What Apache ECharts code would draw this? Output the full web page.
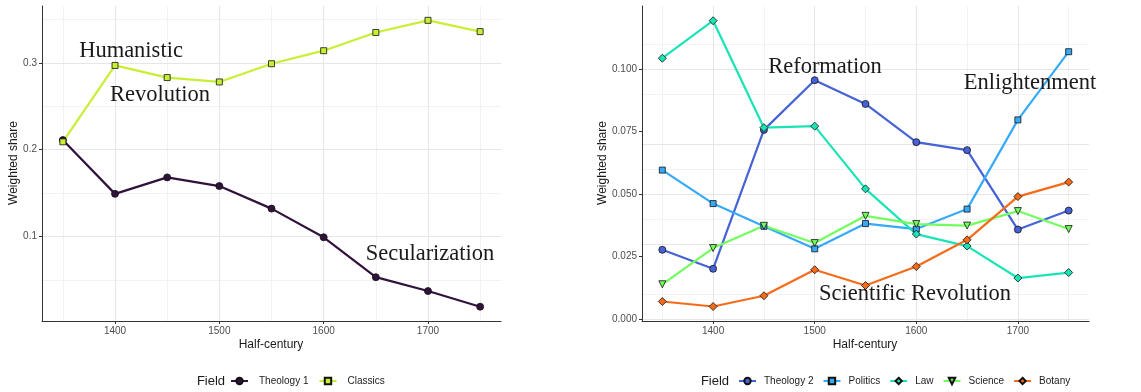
<!DOCTYPE html>
<html><head><meta charset="utf-8">
<script src="https://cdn.jsdelivr.net/npm/echarts@6/dist/echarts.min.js"></script>
<style>html,body{margin:0;padding:0;background:#fff}#c{width:1141px;height:392px}</style>
</head><body><div id="c"></div>
<script>
// ---- data ----
const years = [1350, 1400, 1450, 1500, 1550, 1600, 1650, 1700, 1750];
const theology1 = [0.211, 0.149, 0.168, 0.158, 0.132, 0.099, 0.053, 0.037, 0.019];
const classics  = [0.209, 0.297, 0.283, 0.278, 0.299, 0.314, 0.335, 0.349, 0.336];
const theology2 = [0.0276, 0.0200, 0.0756, 0.0955, 0.0860, 0.0707, 0.0675, 0.0357, 0.0433];
const politics  = [0.0595, 0.0461, 0.0370, 0.0280, 0.0381, 0.0359, 0.0439, 0.0796, 0.1069];
const law       = [0.1043, 0.1193, 0.0765, 0.0771, 0.0520, 0.0339, 0.0291, 0.0163, 0.0185];
const science   = [0.0138, 0.0283, 0.0372, 0.0303, 0.0412, 0.0379, 0.0373, 0.0431, 0.0359];
const botany    = [0.0069, 0.0049, 0.0092, 0.0196, 0.0133, 0.0209, 0.0316, 0.0489, 0.0547];
const xTicks = [1400, 1500, 1600, 1700];
const xMinor = [1350, 1450, 1550, 1650, 1750];
const yTicksL = [0.1, 0.2, 0.3];
const yMinorL = [0.05, 0.15, 0.25, 0.35];
const yTicksR = [0, 0.025, 0.05, 0.075, 0.1];
const yMinorR = [0.0125, 0.0375, 0.0625, 0.0875, 0.1125];

const chart = echarts.init(document.getElementById('c'), null, {renderer: 'canvas'});
const pair = arr => years.map((y, i) => [y, arr[i]]);

function xAxisDef(idx) {
  return {
    type: 'value', gridIndex: idx, min: 1330, max: 1770, z: 3,
    axisLine: {show: true, onZero: false, lineStyle: {color: '#333', width: 1}},
    axisTick: {show: true, length: 3, customValues: xTicks, lineStyle: {color: '#333'}},
    axisLabel: {customValues: xTicks, color: '#4d4d4d', fontSize: 10, margin: 5, fontFamily: 'Liberation Sans',
      formatter: v => String(Math.round(v))},
    splitLine: {show: false}
  };
}
function yAxisDef(idx, min, max, ticks, dec) {
  return {
    type: 'value', gridIndex: idx, min: min, max: max, z: 3,
    axisLine: {show: true, onZero: false, lineStyle: {color: '#333', width: 1}},
    axisTick: {show: true, length: 3, customValues: ticks, lineStyle: {color: '#333'}},
    axisLabel: {customValues: ticks, color: '#4d4d4d', fontSize: 10, margin: 5, fontFamily: 'Liberation Sans',
      formatter: v => Number(v).toFixed(dec)},
    splitLine: {show: false}
  };
}
function gridSeries(idx, yMaj, yMin) {
  const ml = [];
  xMinor.forEach(v => ml.push({xAxis: v, lineStyle: {color: '#f2f2f2', width: 1, type: 'solid'}}));
  yMin.forEach(v => ml.push({yAxis: v, lineStyle: {color: '#f2f2f2', width: 1, type: 'solid'}}));
  xTicks.forEach(v => ml.push({xAxis: v, lineStyle: {color: '#e6e6e6', width: 1, type: 'solid'}}));
  yMaj.forEach(v => ml.push({yAxis: v, lineStyle: {color: '#e6e6e6', width: 1, type: 'solid'}}));
  return {
    type: 'line', name: '_grid' + idx, xAxisIndex: idx, yAxisIndex: idx, data: [], z: 0, silent: true,
    markLine: {silent: true, z: 0, zlevel: 0, symbol: ['none', 'none'], label: {show: false}, animation: false, data: ml}
  };
}
function lineSeries(name, arr, idx, color, symbol, size, rotate) {
  return {
    type: 'line', name: name, xAxisIndex: idx, yAxisIndex: idx, data: pair(arr), z: 2,
    symbol: symbol, symbolSize: size, symbolRotate: rotate || 0, showSymbol: true,
    lineStyle: {color: color, width: 2.2},
    itemStyle: {color: color, borderColor: '#111', borderWidth: 0.8},
    emphasis: {disabled: true}
  };
}
const txt = (x, y, s, size, font, extra) => Object.assign({
  type: 'text', x: x, y: y, silent: true, z: 20,
  style: {text: s, fontSize: size, fontFamily: font, fill: '#1a1a1a', align: 'center', verticalAlign: 'middle'}
}, extra || {});
const serif = 'Liberation Serif';

const option = {
  animation: false,
  backgroundColor: '#fff',
  grid: [
    {left: 42, right: 640, top: 6, bottom: 71},
    {left: 642, right: 52, top: 6, bottom: 71}
  ],
  xAxis: [xAxisDef(0), xAxisDef(1)],
  yAxis: [
    yAxisDef(0, 0.0025, 0.3655, yTicksL, 1),
    yAxisDef(1, -0.0009, 0.1252, yTicksR, 3)
  ],
  legend: [
    {data: ['Theology 1', 'Classics'], left: 230, top: 376, padding: 0, itemWidth: 17, itemHeight: 8, itemGap: 10,
      textStyle: {fontSize: 10, color: '#1a1a1a', fontFamily: 'Liberation Sans', padding: [0, 0, 0, 6]}, selectedMode: false},
    {data: ['Theology 2', 'Politics', 'Law', 'Science', 'Botany'], left: 738, top: 376, padding: 0, itemWidth: 17, itemHeight: 8, itemGap: 9,
      textStyle: {fontSize: 10, color: '#1a1a1a', fontFamily: 'Liberation Sans', padding: [0, 0, 0, 3]}, selectedMode: false}
  ],
  series: [
    gridSeries(0, yTicksL, yMinorL),
    gridSeries(1, yTicksR, yMinorR),
    lineSeries('Theology 1', theology1, 0, '#30123B', 'circle', 7),
    lineSeries('Classics', classics, 0, '#C7EF34', 'rect', 6),
    lineSeries('Theology 2', theology2, 1, '#4662D7', 'circle', 7),
    lineSeries('Politics', politics, 1, '#36AAF9', 'rect', 6),
    lineSeries('Law', law, 1, '#1AE4B6', 'diamond', 8),
    lineSeries('Science', science, 1, '#72FE5E', 'triangle', 7, 180),
    lineSeries('Botany', botany, 1, '#F66B19', 'diamond', 8)
  ],
  graphic: [
    txt(131, 51, 'Humanistic', 22.5, serif),
    txt(160, 95, 'Revolution', 22.5, serif),
    txt(430, 254, 'Secularization', 22.5, serif),
    txt(825, 67, 'Reformation', 22.5, serif),
    txt(1030, 83, 'Enlightenment', 22.5, serif),
    txt(915, 294, 'Scientific Revolution', 22.5, serif),
    txt(271, 345, 'Half-century', 12, 'Liberation Sans', {}),
    txt(865, 345, 'Half-century', 12, 'Liberation Sans', {}),
    txt(14, 163, 'Weighted share', 12, 'Liberation Sans', {rotation: Math.PI / 2}),
    txt(603, 163, 'Weighted share', 12, 'Liberation Sans', {rotation: Math.PI / 2}),
    txt(211, 381, 'Field', 13, 'Liberation Sans'),
    txt(715, 381, 'Field', 13, 'Liberation Sans')
  ]
};
chart.setOption(option);
</script>
</body></html>
